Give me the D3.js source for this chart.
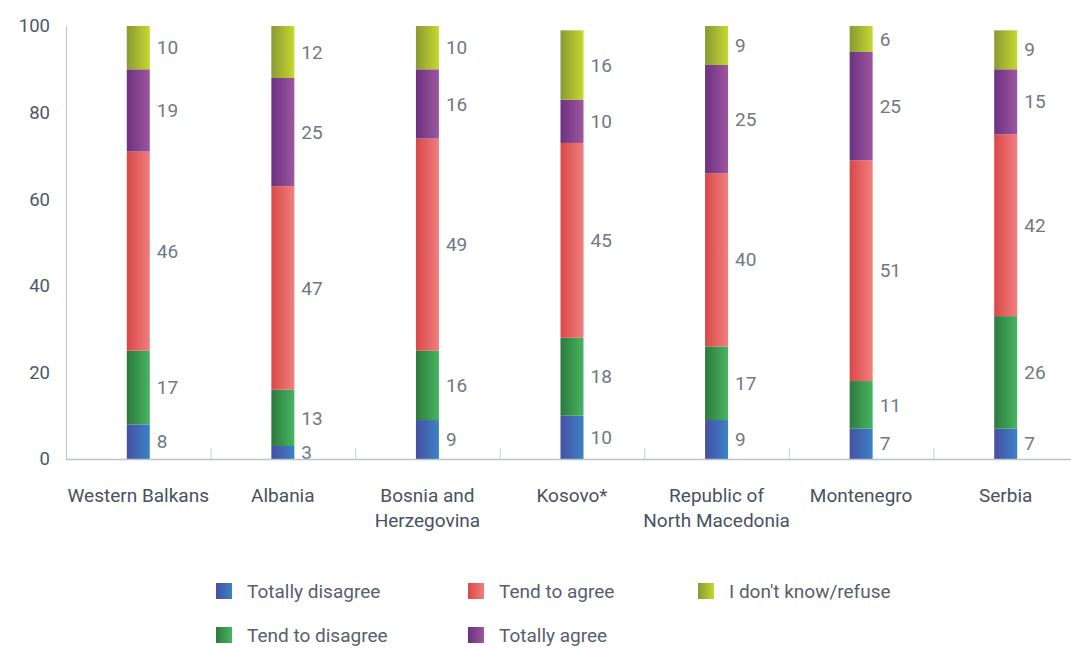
<!DOCTYPE html>
<html>
<head>
<meta charset="utf-8">
<script src="https://cdn.jsdelivr.net/npm/d3@7"></script>
<style>
  html, body { margin: 0; padding: 0; background: #fff; }
  svg text { font-family: Roboto, "Noto Sans", sans-serif; }
</style>
</head>
<body>
<svg id="chart" width="1071" height="648"></svg>
<script>
const categories = [
  ["Western Balkans"],
  ["Albania"],
  ["Bosnia and", "Herzegovina"],
  ["Kosovo*"],
  ["Republic of", "North Macedonia"],
  ["Montenegro"],
  ["Serbia"]
];
const seriesNames = ["Totally disagree", "Tend to disagree", "Tend to agree", "Totally agree", "I don't know/refuse"];
const totallyDisagree = [8, 3, 9, 10, 9, 7, 7];
const tendToDisagree  = [17, 13, 16, 18, 17, 11, 26];
const tendToAgree     = [46, 47, 49, 45, 40, 51, 42];
const totallyAgree    = [19, 25, 16, 10, 25, 25, 15];
const dontKnow        = [10, 12, 10, 16, 9, 6, 9];
const yTicks = [0, 20, 40, 60, 80, 100];

const gradColors = [
  ["#4650a2", "#3a82c6"],
  ["#2c7a3c", "#47b562"],
  ["#d84848", "#f27e7e"],
  ["#6d3180", "#9c569f"],
  ["#889a32", "#c6d830"]
];

const seriesValues = [totallyDisagree, tendToDisagree, tendToAgree, totallyAgree, dontKnow];
const keys = categories.map(c => c.join(" "));
const rows = keys.map((k, i) => {
  const r = { key: k };
  seriesNames.forEach((s, j) => r[s] = seriesValues[j][i]);
  return r;
});

const svg = d3.select("#chart");
const defs = svg.append("defs");
gradColors.forEach((c, j) => {
  const g = defs.append("linearGradient").attr("id", "g" + j)
    .attr("x1", "0%").attr("x2", "100%").attr("y1", "0%").attr("y2", "0%");
  g.append("stop").attr("offset", "0%").attr("stop-color", c[0]);
  g.append("stop").attr("offset", "100%").attr("stop-color", c[1]);
});

const mLeft = 66, mRight = 1078, mTop = 26, mBottom = 459;
const x = d3.scaleBand().domain(keys).range([mLeft, mRight]);
const y = d3.scaleLinear().domain([0, 100]).range([mBottom, mTop]);
const barW = 23;

const stack = d3.stack().keys(seriesNames)(rows);

// y axis line
svg.append("line").attr("x1", mLeft + 0.5).attr("x2", mLeft + 0.5).attr("y1", mTop).attr("y2", mBottom)
  .attr("stroke", "#bcc3cb").attr("stroke-width", 1);

// y tick labels
svg.append("g").selectAll("text").data(yTicks).join("text")
  .attr("x", 50).attr("y", d => y(d)).attr("dy", "0.35em")
  .attr("text-anchor", "end").attr("fill", "#4d5865").attr("font-size", 18.5)
  .text(d => d);

// bars
stack.forEach((layer, j) => {
  const g = svg.append("g");
  g.selectAll("rect").data(layer).join("rect")
    .attr("x", d => x(d.data.key) + x.bandwidth() / 2 - barW / 2)
    .attr("width", barW)
    .attr("y", d => y(d[1]))
    .attr("height", d => y(d[0]) - y(d[1]))
    .attr("fill", `url(#g${j})`);
  g.selectAll("text").data(layer).join("text")
    .attr("x", d => x(d.data.key) + x.bandwidth() / 2 + barW / 2 + 7)
    .attr("y", d => (y(d[0]) + y(d[1])) / 2)
    .attr("dy", "0.35em")
    .attr("fill", "#6f7984").attr("font-size", 19)
    .text(d => d.data[seriesNames[j]]);
});

// x axis
svg.append("line").attr("x1", mLeft).attr("x2", mRight).attr("y1", mBottom + 0.5).attr("y2", mBottom + 0.5)
  .attr("stroke", "#bcc3cb").attr("stroke-width", 1.5);
svg.append("g").selectAll("line").data(keys.slice(1)).join("line")
  .attr("x1", d => x(d) + 0.5).attr("x2", d => x(d) + 0.5)
  .attr("y1", mBottom - 11).attr("y2", mBottom)
  .attr("stroke", "#c8ced5").attr("stroke-width", 1);

// x labels
const xl = svg.append("g").selectAll("text").data(categories).join("text")
  .attr("x", (d, i) => x(keys[i]) + x.bandwidth() / 2)
  .attr("y", 502)
  .attr("text-anchor", "middle").attr("fill", "#47525e").attr("font-size", 19);
xl.each(function(d) {
  d3.select(this).selectAll("tspan").data(d).join("tspan")
    .attr("x", d3.select(this).attr("x"))
    .attr("dy", (t, k) => k === 0 ? 0 : 25)
    .text(t => t);
});

// legend
const legendItems = [
  { name: seriesNames[0], idx: 0, x: 216, y: 591 },
  { name: seriesNames[2], idx: 2, x: 468, y: 591 },
  { name: seriesNames[4], idx: 4, x: 698, y: 591 },
  { name: seriesNames[1], idx: 1, x: 216, y: 635 },
  { name: seriesNames[3], idx: 3, x: 468, y: 635 }
];
const lg = svg.append("g").selectAll("g").data(legendItems).join("g");
lg.append("rect").attr("x", d => d.x).attr("y", d => d.y - 8).attr("width", 16).attr("height", 16)
  .attr("fill", d => `url(#g${d.idx})`);
lg.append("text").attr("x", d => d.x + 31).attr("y", d => d.y).attr("dy", "0.35em")
  .attr("fill", "#55606c").attr("font-size", 19).text(d => d.name);
</script>
</body>
</html>
